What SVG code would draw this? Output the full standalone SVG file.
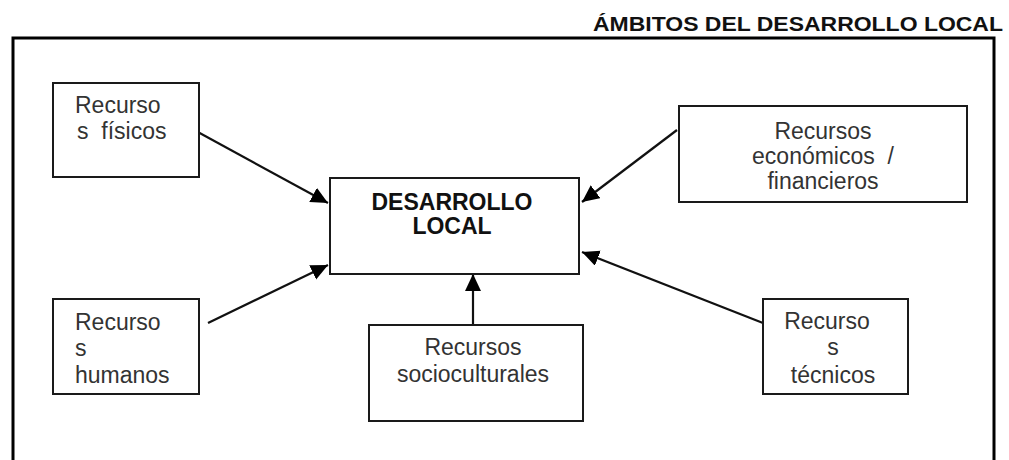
<svg xmlns="http://www.w3.org/2000/svg" width="1009" height="460" viewBox="0 0 1009 460">
<style>
.box{fill:#fff;stroke:#1a1a1a;stroke-width:2}
.t{font-family:"Liberation Sans",Arial,sans-serif;font-size:23px;fill:#333}
.c{text-anchor:middle}
.b{font-weight:bold;fill:#111}
.conn{stroke:#111;stroke-width:2.2;fill:none;marker-end:url(#ah)}
</style>
<defs>
<marker id="ah" markerUnits="userSpaceOnUse" markerWidth="20" markerHeight="18" refX="17" refY="8" orient="auto">
<path d="M0,0 L17,8 L0,16 Z" fill="#000"/>
</marker>
</defs>
<rect width="1009" height="460" fill="#fff"/>
<text x="1003" y="31" text-anchor="end" textLength="410" lengthAdjust="spacingAndGlyphs" style="font-family:'Liberation Sans',Arial,sans-serif;font-size:21px;font-weight:bold;fill:#111">ÁMBITOS DEL DESARROLLO LOCAL</text>
<path d="M13,470 L13,38 L994,38 L994,470" fill="none" stroke="#000" stroke-width="3"/>
<g id="connectors">
<line class="conn" x1="196" y1="131" x2="328" y2="203"/>
<line class="conn" x1="208" y1="323" x2="328" y2="265"/>
<line class="conn" x1="677" y1="130" x2="582" y2="202"/>
<line class="conn" x1="473" y1="325" x2="473" y2="274"/>
<line class="conn" x1="763" y1="323" x2="582" y2="252"/>
</g>
<g id="n-desarrollo">
<rect class="box" x="330" y="178" width="249" height="96"/>
<text class="t c b" x="452" y="210">DESARROLLO</text>
<text class="t c b" x="452" y="234">LOCAL</text>
</g>
<g id="n-fisicos">
<rect class="box" x="53" y="83" width="146" height="94"/>
<text class="t" x="75" y="113">Recurso</text>
<text class="t" x="77" y="139" xml:space="preserve">s  físicos</text>
</g>
<g id="n-economicos">
<rect class="box" x="679" y="106" width="288" height="96"/>
<text class="t c" x="823" y="139">Recursos</text>
<text class="t c" x="823" y="164" xml:space="preserve">económicos  /</text>
<text class="t c" x="823" y="189">financieros</text>
</g>
<g id="n-humanos">
<rect class="box" x="53" y="299" width="146" height="95"/>
<text class="t" x="75" y="330">Recurso</text>
<text class="t" x="75" y="356">s</text>
<text class="t" x="75" y="383">humanos</text>
</g>
<g id="n-socioculturales">
<rect class="box" x="369" y="325" width="214" height="96"/>
<text class="t c" x="473" y="355">Recursos</text>
<text class="t c" x="473" y="382">socioculturales</text>
</g>
<g id="n-tecnicos">
<rect class="box" x="763" y="299" width="145" height="95"/>
<text class="t c" x="827" y="329">Recurso</text>
<text class="t c" x="833" y="355">s</text>
<text class="t c" x="833" y="383">técnicos</text>
</g>
</svg>
